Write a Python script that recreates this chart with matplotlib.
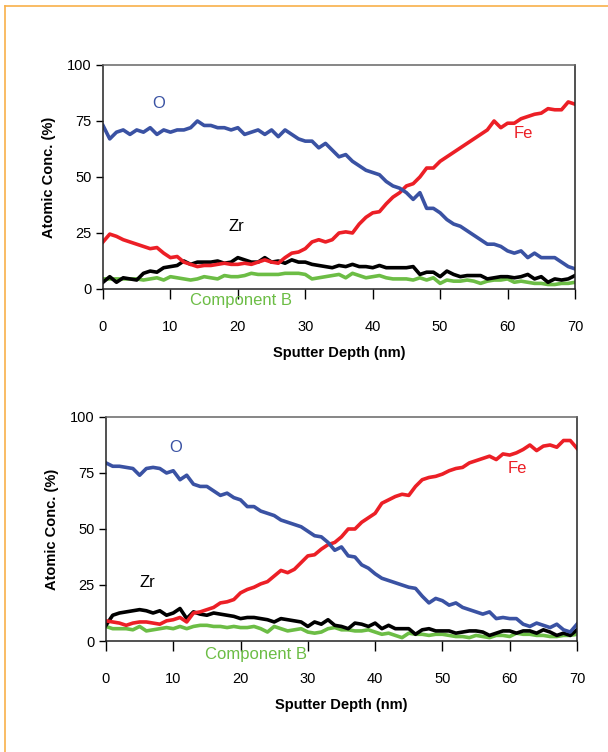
import numpy as np
import matplotlib

matplotlib.use("Agg")
import matplotlib.pyplot as plt
from matplotlib.lines import Line2D

plt.rcParams["font.family"] = ["Liberation Sans", "DejaVu Sans"]

# sputter depth (nm), one sample per nm
depth = np.arange(0, 71)

# --- upper profile ---
top_o = [73, 67, 70, 71, 69, 71, 70, 72, 69, 71, 70, 71, 71, 72, 75, 73, 73, 72, 72, 71,
         72, 69, 70, 71, 69, 71, 68, 71, 69, 67, 66, 66, 63, 65, 62, 59, 60, 57, 55, 53,
         52, 51, 48, 46, 45, 43, 40, 43, 36, 36, 34, 31, 29, 28, 26, 24, 22, 20, 20, 19,
         17, 16, 17, 14, 16, 14, 14, 14, 12, 10, 9]
top_fe = [21, 24.5, 23.5, 22, 21, 20, 19, 18, 18.5, 16, 14, 14.5, 12, 11, 10, 10.5, 10.5, 11, 11.5, 11,
          11, 11.5, 11, 12, 13, 12, 11.5, 14, 16, 16.5, 18, 21, 22, 21, 22, 25, 25.5, 25, 29, 32,
          34, 34.5, 38, 41, 43, 46, 47, 50, 54, 54, 57, 59, 61, 63, 65, 67, 69, 71, 75, 72,
          74, 74, 76, 77, 78, 78.5, 80.5, 80, 80, 83.5, 82.5]
top_zr = [3, 5.5, 3, 5, 4.5, 4, 7, 8, 7.5, 9.5, 10, 10.5, 12.5, 11, 12, 12, 12, 12.5, 11.5, 12,
          14, 13, 12, 12, 14, 12, 12.5, 11.5, 13, 12, 12, 11, 10.5, 10, 9.5, 10.5, 10, 11, 10, 10,
          9.5, 10.5, 9.5, 9.5, 9.5, 9.5, 10, 6.5, 7.5, 7.5, 5.5, 8, 6.5, 5.5, 6, 6, 6, 4.5, 5, 5.5,
          5.5, 5, 5.5, 6.5, 4.5, 5.5, 3, 4.5, 4, 4.5, 6]
top_b = [4.5, 4.5, 4.5, 4.5, 4.5, 4.5, 4, 4.5, 5, 4, 5.5, 5, 4.5, 4, 4.5, 5.5, 5, 4.5, 6, 5.5,
         5.5, 6, 7, 6.5, 6.5, 6.5, 6.5, 7, 7, 7, 6.5, 4.5, 5, 5.5, 6, 6.5, 5, 7, 6, 5,
         5.5, 6, 5, 4.5, 4.5, 4.5, 4, 5, 4, 5, 2.5, 4, 3.5, 3.5, 4, 3.5, 2.5, 3.5, 4, 4,
         4.5, 3, 3.5, 3, 2.5, 2.5, 2, 2, 2.5, 2.5, 3]

# --- lower profile ---
bot_o = [79.5, 78, 78, 77.5, 77, 74, 77, 77.5, 77, 75, 76, 72, 74, 70, 69, 69, 67, 65, 66, 64,
         63, 60, 60, 58, 57, 56, 54, 53, 52, 51, 49, 47, 46.5, 44, 40.5, 42, 38, 37.5, 34, 32.5,
         30, 28, 27, 26, 25, 24, 23.5, 20, 17, 19, 18, 16, 17, 15, 14, 13, 12, 13, 10, 10.5,
         10, 10, 7.5, 6.5, 8, 7, 6, 7.5, 5, 4, 7.5]
bot_fe = [9, 8.5, 8, 7, 8, 8.5, 8.5, 8, 7.5, 9, 9.5, 10.5, 8.5, 12.5, 13, 14, 15, 17, 17.5, 18.5,
          21.5, 23, 24, 25.5, 26.5, 29, 31.5, 30.5, 32, 35, 38, 38.5, 41, 43, 44, 46.5, 50, 50, 53, 55,
          57, 61.5, 63, 64.5, 65.5, 65, 69, 72, 73, 73.5, 74.5, 76, 77, 77.5, 79.5, 80.5, 81.5, 82.5, 81, 83.5,
          83, 84, 85.5, 87.5, 85, 87, 87.5, 86.5, 89.5, 89.5, 86]
bot_zr = [7, 11.5, 12.5, 13, 13.5, 14, 13.5, 12.5, 13.5, 11.5, 12.5, 14.5, 10, 13, 12, 11.5, 12.5, 12, 11.5, 11,
          10, 10.5, 10.5, 10, 9.5, 8.5, 10, 9.5, 9, 8.5, 6.5, 8.5, 7.5, 9.5, 7, 6.5, 5.5, 8, 7.5, 6.5,
          8, 5.5, 7, 5.5, 5.5, 5.5, 3, 5, 5.5, 4.5, 4.5, 4.5, 3.5, 4, 4.5, 4.5, 4, 2.5, 3.5, 4.5,
          4.5, 3.5, 4.5, 4.5, 3.5, 5, 4, 2.5, 3.5, 2.5, 5]
bot_b = [6.5, 5.5, 5.5, 5.5, 5, 6.5, 4.5, 5, 5.5, 6, 5.5, 6.5, 5.5, 6.5, 7, 7, 6.5, 6.5, 6, 6.5,
         6, 6, 6.5, 5.5, 4, 6.5, 5.5, 4.5, 5, 5.5, 4, 3.5, 4, 5.5, 6, 5, 5, 4.5, 4.5, 5,
         4, 3, 3.5, 2.5, 1.5, 3.5, 3, 3, 2.5, 3, 3, 2.5, 2, 2, 1.5, 2.5, 2, 1.5, 2.5, 2.5,
         2, 3.5, 3, 3, 2.5, 2.5, 2, 2, 2.5, 2.5, 3]

BLUE = "#3a52a3"
RED = "#ec1f26"
GREEN = "#6cbd45"
BLACK = "#000000"

panels = [
    dict(rect=[0.1694, 0.6157, 0.7763, 0.2979],
         series=(top_o, top_fe, top_zr, top_b),
         labels={"O": (8.2, 83), "Fe": (62.4, 69.5), "Zr": (19.8, 28), "Component B": (20.5, -5.0)}),
    dict(rect=[0.1743, 0.1476, 0.7747, 0.2979],
         series=(bot_o, bot_fe, bot_zr, bot_b),
         labels={"O": (10.3, 86.5), "Fe": (61.2, 77), "Zr": (6.1, 26), "Component B": (22.3, -6.0)}),
]

fig = plt.figure(figsize=(6.08, 7.52), dpi=100)

# thin orange frame on the top and left edges
fig.add_artist(Line2D([0.008, 1.0], [0.992, 0.992], color="#f8b04a", lw=1.2, transform=fig.transFigure))
fig.add_artist(Line2D([0.008, 0.008], [0.0, 0.992], color="#f8b04a", lw=1.2, transform=fig.transFigure))

label_colors = {"O": BLUE, "Fe": RED, "Zr": BLACK, "Component B": GREEN}

for p in panels:
    ax = fig.add_axes(p["rect"])
    o, fe, zr, b = p["series"]
    ax.plot(depth, b, color=GREEN, lw=2.6, solid_joinstyle="round")
    ax.plot(depth, zr, color=BLACK, lw=2.6, solid_joinstyle="round")
    ax.plot(depth, fe, color=RED, lw=2.6, solid_joinstyle="round")
    ax.plot(depth, o, color=BLUE, lw=2.6, solid_joinstyle="round")

    ax.set_xlim(0, 70)
    ax.set_ylim(0, 100)
    ax.set_xticks(range(0, 71, 10))
    ax.set_yticks([0, 25, 50, 75, 100])
    # x tick labels sit well below the axis, leaving room for the "Component B" tag
    ax.tick_params(axis="x", direction="out", length=7, width=1, labelsize=10.5, pad=15)
    ax.tick_params(axis="y", direction="out", length=5, width=1, labelsize=10.5, pad=3)
    for side in ("left", "bottom", "right"):
        ax.spines[side].set_color("#222222")
        ax.spines[side].set_linewidth(1.1)
    ax.spines["top"].set_color("#666666")
    ax.spines["top"].set_linewidth(1.1)

    ax.set_xlabel("Sputter Depth (nm)", fontsize=10.5, fontweight="bold", labelpad=9)
    ax.set_ylabel("Atomic Conc. (%)", fontsize=10.5, fontweight="bold", labelpad=8)

    for name, (tx, ty) in p["labels"].items():
        ax.text(tx, ty, name, color=label_colors[name], fontsize=12,
                ha="center", va="center", clip_on=False)

fig.savefig("out.png", dpi=100)
